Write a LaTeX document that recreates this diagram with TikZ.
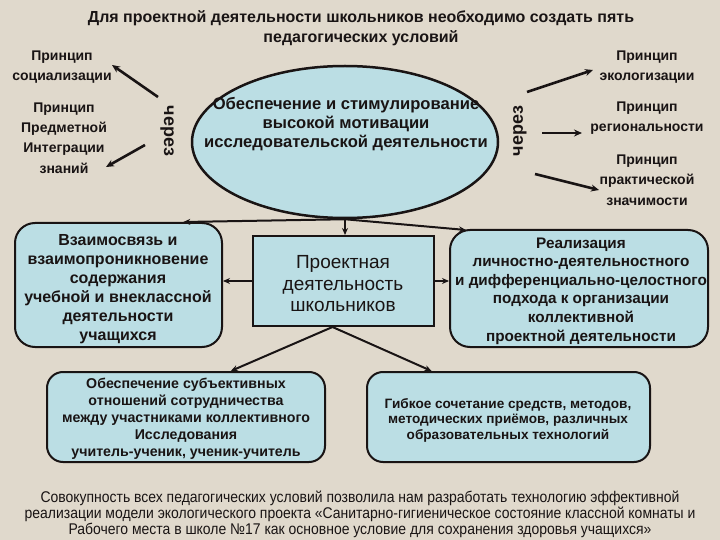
\documentclass[tikz,border=0pt]{standalone}
\usepackage{fontspec}
\setmainfont{Liberation Sans}
\newfontfamily\narrowfont[FakeStretch=0.9]{Liberation Sans}
\usetikzlibrary{shapes.geometric,arrows.meta,calc}
\definecolor{bg}{RGB}{224,217,204}
\definecolor{boxfill}{RGB}{187,222,228}
\definecolor{ink}{RGB}{25,20,20}
\begin{document}
\begin{tikzpicture}[x=1pt,y=-1pt,
  lbl/.style={font=\bfseries\fontsize{14}{20.3}\selectfont, text=ink, align=center, inner sep=0},
  arr/.style={draw=ink, line width=2.6pt, -{Stealth[length=8pt,width=7pt]}},
  conn/.style={draw=ink, line width=2pt, -{Stealth[length=7pt,width=6pt]}},
  rbox/.style={draw=ink, line width=2pt, fill=boxfill, rounded corners=#1},
  sbox/.style={draw=ink, line width=2pt, fill=boxfill},
  btxt/.style={font=\bfseries\fontsize{16}{19}\selectfont, align=center, text=ink, inner sep=0},
  stxt/.style={font=\bfseries\fontsize{14.2}{17}\selectfont, align=center, text=ink, inner sep=0},
  viatxt/.style={font=\bfseries\fontsize{18}{20}\selectfont, text=ink, inner sep=0},
]
\fill[bg] (0,0) rectangle (720,540);
\useasboundingbox (0,0) rectangle (720,540);

% title
\node[font=\bfseries\fontsize{16}{20}\selectfont, text=ink, align=center, inner sep=0] (title) at (361,28)
  {Для проектной деятельности школьников необходимо создать пять\\педагогических условий};

% ellipse
\node[ellipse, draw=ink, line width=2.5pt, fill=boxfill, minimum width=306pt, minimum height=152pt, inner sep=0] (ell) at (345,142) {};
\node[font=\bfseries\fontsize{16.6}{19}\selectfont, text=ink, align=center, inner sep=0] (ellt) at (346,124)
  {Обеспечение и стимулирование\\высокой мотивации\\исследовательской деятельности};

% via labels
\node[viatxt, rotate=-90] (viaL) at (167,131) {через};
\node[viatxt, rotate=90] (viaR) at (520,131) {через};

% principles
\node[lbl] (p1) at (62,67) {Принцип\\социализации};
\node[lbl] (p2) at (64,138) {Принцип\\Предметной\\Интеграции\\знаний};
\node[lbl] (p3) at (647,67) {Принцип\\экологизации};
\node[lbl] (p4) at (647,118) {Принцип\\региональности};
\node[lbl] (p5) at (647,180) {Принцип\\практической\\значимости};

\coordinate (a1s) at (158,97); \coordinate (a1e) at (112,65);
\coordinate (a2s) at (145,145); \coordinate (a2e) at (106,167);
\coordinate (a3s) at (527,92); \coordinate (a3e) at (593,70);
\coordinate (a4s) at (542,133); \coordinate (a4e) at (582,133);
\coordinate (a5s) at (535,174); \coordinate (a5e) at (599,190);
\draw[arr] (a1s) -- (a1e);
\draw[arr] (a2s) -- (a2e);
\draw[arr] (a3s) -- (a3e);
\draw[arr] (a4s) -- (a4e);
\draw[arr] (a5s) -- (a5e);

% middle row
\node[rbox=20pt, minimum width=207pt, minimum height=124pt, inner sep=0] (lbox) at (118.5,285) {};
\node[btxt] (lboxt) at (118,289) {Взаимосвязь и\\взаимопроникновение\\содержания\\учебной и внеклассной\\деятельности\\учащихся};

\node[sbox, minimum width=181pt, minimum height=90pt, inner sep=0] (cbox) at (343.5,281) {};
\node[font=\fontsize{19}{21.5}\selectfont, text=ink, align=center, inner sep=0] (cboxt) at (343,284) {Проектная\\деятельность\\школьников};

\node[rbox=20pt, minimum width=258pt, minimum height=117pt, inner sep=0] (rbox) at (579,288.5) {};
\node[btxt, font=\bfseries\fontsize{15.3}{18.6}\selectfont] (rboxt) at (581,291) {Реализация\\личностно-деятельностного\\и дифференциально-целостного\\подхода к организации\\коллективной\\проектной деятельности};

% bottom row
\node[rbox=16pt, minimum width=278pt, minimum height=90pt, inner sep=0] (blbox) at (186,417) {};
\node[stxt] (blboxt) at (186,419) {Обеспечение субъективных\\отношений сотрудничества\\между участниками коллективного\\Исследования\\учитель-ученик, ученик-учитель};

\node[rbox=16pt, minimum width=283pt, minimum height=90pt, inner sep=0] (brbox) at (508.5,417) {};
\node[stxt, font=\bfseries\fontsize{13.6}{15.5}\selectfont] (brboxt) at (508,420) {Гибкое сочетание средств, методов,\\методических приёмов, различных\\образовательных технологий};

% connectors
\coordinate (junc) at (ell.south);
\coordinate (lin) at ($(lbox.north west)!0.81!(lbox.north east)$);
\coordinate (rin) at (466,230);
\draw[conn] (junc) -- (lin);
\draw[conn] (junc) -- (rin);
\draw[conn] (junc) -- (junc |- cbox.north);
\draw[conn] (cbox.west) -- (cbox.west -| lbox.east);
\draw[conn] (cbox.east) -- (cbox.east -| rbox.west);
\coordinate (apex) at ($(cbox.south west)!0.44!(cbox.south east)$);
\draw[conn] (apex) -- ($(blbox.north west)!0.66!(blbox.north east)$);
\draw[conn] (apex) -- ($(brbox.north west)!0.23!(brbox.north east)$);

% footer
\node[font=\narrowfont\fontsize{15.5}{16}\selectfont, text=ink, align=center, inner sep=0] (foot) at (360,514)
  {Совокупность всех педагогических условий позволила нам разработать технологию эффективной\\реализации модели экологического проекта «Санитарно-гигиеническое состояние классной комнаты и\\Рабочего места в школе №17 как основное условие для сохранения здоровья учащихся»};
\end{tikzpicture}
\end{document}
